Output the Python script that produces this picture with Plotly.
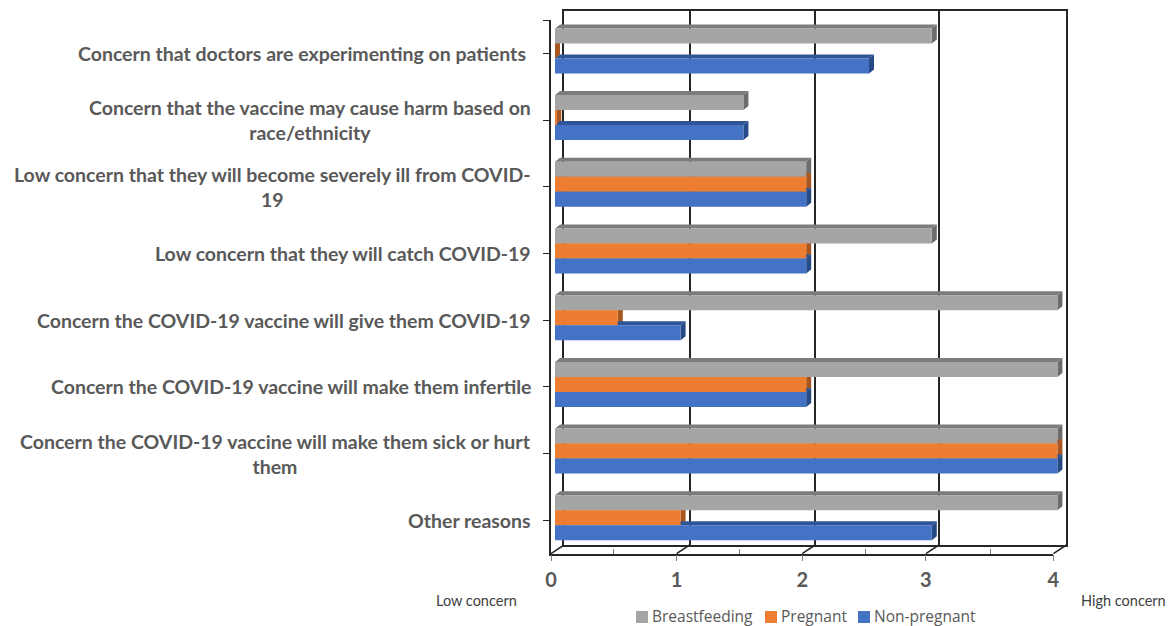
import plotly.graph_objects as go

# Survey data: one row per reason, top of the chart first
categories = [
    "Concern that doctors are experimenting on patients ",
    "Concern that the vaccine may cause harm based on<br>race/ethnicity",
    "Low concern that they will become severely ill from COVID-<br>19",
    "Low concern that they will catch COVID-19",
    "Concern the COVID-19 vaccine will give them COVID-19",
    "Concern the COVID-19 vaccine will make them infertile",
    "Concern the COVID-19 vaccine will make them sick or hurt<br>them",
    "Other reasons",
]
breastfeeding = [3, 1.5, 2, 3, 4, 4, 4, 4]
pregnant = [0, 0.01, 2, 2, 0.5, 2, 4, 1]
non_pregnant = [2.5, 1.5, 2, 2, 1, 2, 4, 3]
value_ticks = [0, 1, 2, 3, 4]

series = [
    ("Breastfeeding", breastfeeding, "#A5A5A5", "#7C7C7C", "#6C6C6C"),
    ("Pregnant", pregnant, "#ED7D31", "#A8561F", "#A8561F"),
    ("Non-pregnant", non_pregnant, "#4472C4", "#2F5597", "#264A85"),
]

W, H = 1172, 626
TEXT = "#595959"
LINE = "#262626"

# Pixel geometry of the pseudo-3D box
UNIT_X = 125.6          # pixels per concern unit
ROW_H = 66.7            # pixels per category row
BAR_X0 = 555            # where a zero-length bar starts
BAR_Y0 = 50.9           # centre of the first bar group
DEPTH_X, DEPTH_Y = 5, 4  # extrusion of each bar
FRONT_X0, FRONT_Y0, FRONT_Y1 = 551, 20, 553.6
BACK_X0, BACK_Y0, BACK_Y1 = 564, 11, 545

page_x = [-BAR_X0 / UNIT_X, (W - BAR_X0) / UNIT_X]
page_y = [(H - BAR_Y0) / ROW_H, -BAR_Y0 / ROW_H]
rows = list(range(len(categories)))
BAR_SPAN = 45 / ROW_H
BAR_T = BAR_SPAN / 3

# The perspective box draws its "3" slightly left of the even spacing
grid_positions = [0, 1, 2, 2.985, 4]

fig = go.Figure()

# Anchors the back wall subplot so it sits beneath everything else
fig.add_trace(go.Scatter(x=[0], y=[0], xaxis="x", yaxis="y", mode="none",
                         hoverinfo="skip", showlegend=False))


def faces(values, row_offset):
    """Side and top polygons of one series' bars, in data units."""
    dx, dy = DEPTH_X / UNIT_X, DEPTH_Y / ROW_H
    sx, sy, tx, ty = [], [], [], []
    for r, v in zip(rows, values):
        y0 = r + row_offset - BAR_T / 2
        y1 = r + row_offset + BAR_T / 2
        sx += [v, v + dx, v + dx, v, v, None]
        sy += [y0, y0 - dy, y1 - dy, y1, y0, None]
        tx += [0, dx, v + dx, v, 0, None]
        ty += [y0, y0 - dy, y0 - dy, y0, y0, None]
    return sx, sy, tx, ty


# Extruded faces go first, upper series underneath the lower ones
for i, (name, values, _, top, side) in enumerate(series):
    sx, sy, tx, ty = faces(values, (i - 1) * BAR_T)
    for xs, ys, colour in ((sx, sy, side), (tx, ty, top)):
        fig.add_trace(go.Scatter(
            x=xs, y=ys, xaxis="x2", yaxis="y2", mode="lines",
            fill="toself", fillcolor=colour, line=dict(width=0),
            hoverinfo="skip", showlegend=False,
        ))

for name, values, colour, _, _ in series:
    fig.add_trace(go.Bar(
        name=name, y=rows, x=values, orientation="h",
        xaxis="x3", yaxis="y3", marker=dict(color=colour, line=dict(width=0)),
        showlegend=False,
    ))

# Depth edges joining the front scale to the back wall
shapes = []
for v in grid_positions:
    shapes.append(dict(
        type="line", xref="paper", yref="paper", layer="below",
        x0=(FRONT_X0 + v * UNIT_X) / W, y0=1 - FRONT_Y1 / H,
        x1=(BACK_X0 + v * UNIT_X) / W, y1=1 - BACK_Y1 / H,
        line=dict(color=LINE, width=1.5),
    ))

annotations = [
    dict(text=c, xref="paper", yref="y4", x=533 / W, y=r,
         xanchor="right", yanchor="middle", align="center", showarrow=False,
         font=dict(family="Lato", size=19.5, color=TEXT, weight="bold"))
    for r, c in zip(rows, categories)
]
for text, px in (("Low concern", 476), ("High concern", 1123)):
    annotations.append(dict(
        text=text, xref="paper", yref="paper", x=px / W, y=1 - 600 / H,
        xanchor="center", yanchor="middle", showarrow=False,
        font=dict(family="Lato", size=14.5, color="#404040"),
    ))

# Key under the chart
for (name, _, colour, _, _), px in zip(series, (636, 765, 858)):
    shapes.append(dict(
        type="rect", xref="paper", yref="paper",
        x0=px / W, x1=(px + 12) / W, y0=1 - 623 / H, y1=1 - 611 / H,
        fillcolor=colour, line=dict(width=0),
    ))
    annotations.append(dict(
        text=name, xref="paper", yref="paper", x=(px + 14) / W, y=1 - 615.5 / H,
        xanchor="left", yanchor="middle", showarrow=False,
        font=dict(family="Open Sans", size=15.5, color=TEXT),
    ))

hidden = dict(visible=False)
fig.update_layout(
    width=W, height=H, autosize=False, paper_bgcolor="white", plot_bgcolor="rgba(0,0,0,0)",
    margin=dict(l=0, r=0, t=0, b=0, autoexpand=False),
    barmode="group", bargap=1 - BAR_SPAN, bargroupgap=0, showlegend=False,
    shapes=shapes, annotations=annotations,
    # Back wall of the box, with the vertical gridlines
    xaxis=dict(domain=[BACK_X0 / W, (BACK_X0 + 4 * UNIT_X) / W], range=[0, 4], anchor="y",
               tickvals=grid_positions, showgrid=True, gridcolor=LINE, gridwidth=1.5, zeroline=False,
               showline=True, mirror=True, linecolor=LINE, linewidth=1.5, showticklabels=False, ticks=""),
    yaxis=dict(domain=[1 - BACK_Y1 / H, 1 - BACK_Y0 / H], range=[0, 1], anchor="x",
               showgrid=False, zeroline=False, showline=True, mirror=True,
               linecolor=LINE, linewidth=1.5, showticklabels=False, ticks=""),
    # Full-page scales shared by the bars and their extruded faces
    xaxis2=dict(domain=[0, 1], range=page_x, anchor="y2", **hidden),
    yaxis2=dict(domain=[0, 1], range=page_y, anchor="x2", **hidden),
    xaxis3=dict(range=page_x, overlaying="x2", anchor="y3", **hidden),
    yaxis3=dict(range=page_y, overlaying="y2", anchor="x3", **hidden),
    # Front value and category axes
    xaxis4=dict(domain=[FRONT_X0 / W, (FRONT_X0 + 4 * UNIT_X) / W], range=[0, 4], anchor="y4",
                tickvals=grid_positions, ticktext=[str(t) for t in value_ticks],
                ticks="outside", ticklen=6, tickwidth=1, tickcolor="#7f7f7f",
                minor=dict(tickvals=[0.5, 1.5, 2.5, 3.5], ticks="inside", ticklen=5,
                           tickcolor="#7f7f7f", tickwidth=1),
                showgrid=False, zeroline=False, showline=True, linecolor=LINE, linewidth=1.5,
                ticklabelstandoff=2,
                tickfont=dict(family="Lato", size=20, color=TEXT, weight="bold")),
    yaxis4=dict(domain=[1 - FRONT_Y1 / H, 1 - FRONT_Y0 / H], range=[7.5, -0.5], anchor="x4",
                tickvals=[-0.5] + rows, ticks="outside", ticklen=6, tickwidth=1, tickcolor=LINE,
                showticklabels=False, showgrid=False, zeroline=False,
                showline=True, linecolor=LINE, linewidth=1.5),
    yaxis5=dict(range=[7.5, -0.5], overlaying="y4", anchor="x4",
                tickvals=[-0.5] + rows, ticks="inside", ticklen=5, tickwidth=1, tickcolor=LINE,
                showticklabels=False, showgrid=False, zeroline=False, showline=False),
)

fig.write_html("out.html")
